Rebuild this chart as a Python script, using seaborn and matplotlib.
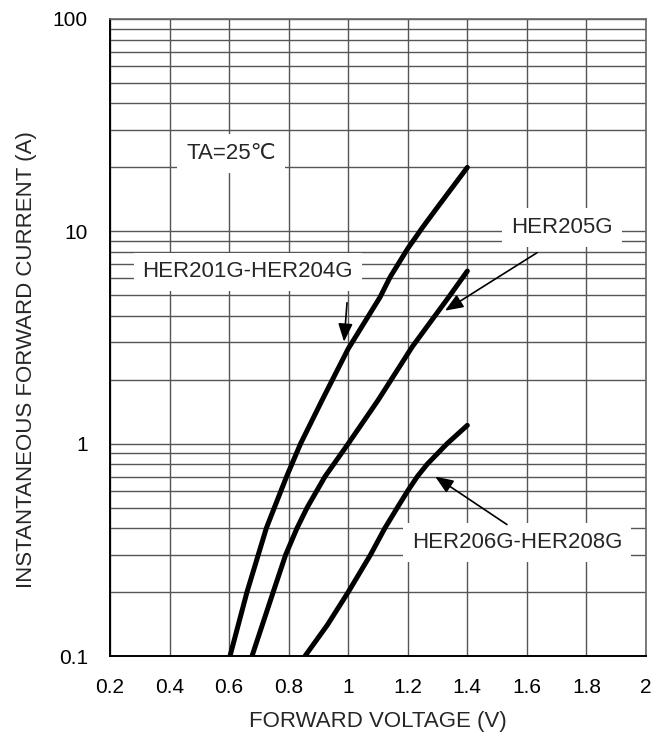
import matplotlib
matplotlib.use("Agg")
import matplotlib.pyplot as plt
import seaborn as sns
import pandas as pd
from matplotlib.ticker import LogLocator, FixedLocator, FuncFormatter, NullFormatter

# ---- data ----
v_201_204 = [0.603, 0.66, 0.698, 0.725, 0.752, 0.793, 0.840, 0.912, 0.962, 1.0, 1.107, 1.141, 1.2, 1.251, 1.3, 1.4]
i_201_204 = [0.1, 0.2, 0.3, 0.4, 0.5, 0.7, 1.0, 1.6, 2.2, 2.8, 4.9, 6.1, 8.3, 10.5, 13.0, 20.0]

v_205 = [0.677, 0.748, 0.790, 0.828, 0.862, 0.922, 1.0, 1.1, 1.215, 1.342, 1.4]
i_205 = [0.1, 0.2, 0.3, 0.4, 0.5, 0.7, 1.0, 1.6, 2.86, 5.0, 6.5]

v_206_208 = [0.855, 0.93, 1.0, 1.075, 1.123, 1.165, 1.2, 1.232, 1.265, 1.332, 1.4]
i_206_208 = [0.1, 0.14, 0.2, 0.3, 0.4, 0.5, 0.6, 0.7, 0.8, 1.0, 1.22]

x_ticks = [0.2, 0.4, 0.6, 0.8, 1.0, 1.2, 1.4, 1.6, 1.8, 2.0]
y_ticks = [0.1, 1, 10, 100]

labels = ["HER201G-HER204G", "HER205G", "HER206G-HER208G"]

frames = []
for name, v, i in zip(labels, [v_201_204, v_205, v_206_208], [i_201_204, i_205, i_206_208]):
    frames.append(pd.DataFrame({"V": v, "I": i, "device": name}))
df = pd.concat(frames, ignore_index=True)

sns.set_theme(style="white")
plt.rcParams["font.family"] = ["Liberation Sans", "DejaVu Sans"]

fig = plt.figure(figsize=(6.64, 7.36), dpi=100)
ax = fig.add_axes([110 / 664, 1 - 656 / 736, 536 / 664, 637 / 736])

ax.set_yscale("log")
ax.set_xlim(0.2, 2.0)
ax.set_ylim(0.1, 100)

gc = "#555555"
ax.xaxis.set_major_locator(FixedLocator(x_ticks))
ax.yaxis.set_major_locator(FixedLocator(y_ticks))
ax.yaxis.set_minor_locator(LogLocator(base=10, subs=range(2, 10)))
ax.yaxis.set_minor_formatter(NullFormatter())
ax.xaxis.set_major_formatter(FuncFormatter(lambda x, p: f"{x:g}"))
ax.yaxis.set_major_formatter(FuncFormatter(lambda y, p: f"{y:g}"))
ax.grid(True, which="major", axis="both", color=gc, linewidth=1.0)
ax.grid(True, which="minor", axis="y", color=gc, linewidth=1.0)
ax.set_axisbelow(True)

ax.tick_params(axis="both", which="both", length=0, pad=16, labelsize=15, colors="black")

sns.lineplot(data=df, x="V", y="I", hue="device", palette=["black"] * 3,
             linewidth=3.6, sort=False, estimator=None, legend=False, ax=ax, zorder=5)

for side, s in ax.spines.items():
    s.set_zorder(6)
    if side in ("left", "bottom"):
        s.set_color("black")
        s.set_linewidth(1.4)
    else:
        s.set_color("#666666")
        s.set_linewidth(1.2)

ax.set_xlabel("FORWARD VOLTAGE (V)", fontsize=16)
ax.set_ylabel("INSTANTANEOUS FORWARD CURRENT (A)", fontsize=16)
ax.xaxis.set_label_coords(0.5, (656 - 711) / 637)
ax.yaxis.set_label_coords((37 - 110) / 536, (656 - 360) / 637)

bbox = dict(boxstyle="square,pad=0.4", facecolor="white", edgecolor="none")
ax.text(0.606, 23.2, "TA=25\u2103", fontsize=16, ha="center", va="center", bbox=bbox, zorder=4)
ax.text(0.663, 6.44, labels[0], fontsize=16, ha="center", va="center", bbox=bbox, zorder=4)
ax.text(1.718, 10.4, labels[1], fontsize=16, ha="center", va="center", bbox=bbox, zorder=4)
ax.text(1.567, 0.342, labels[2], fontsize=16, ha="center", va="center", bbox=bbox, zorder=4)

ap = dict(arrowstyle="-|>,head_length=0.5,head_width=0.2", color="black", lw=1.2,
          mutation_scale=22, shrinkA=0, shrinkB=0)
ax.annotate("", xy=(0.986, 3.02), xytext=(0.996, 4.61), arrowprops=ap, zorder=7)
ax.annotate("", xy=(1.325, 4.23), xytext=(1.634, 7.93), arrowprops=ap, zorder=7)
ax.annotate("", xy=(1.292, 0.70), xytext=(1.533, 0.416), arrowprops=ap, zorder=7)

fig.savefig("out.png", dpi=100, facecolor="white")
